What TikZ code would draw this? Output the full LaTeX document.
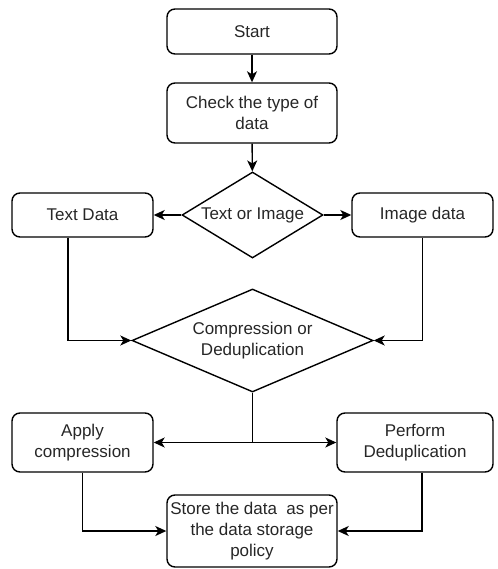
\documentclass[tikz,border=0pt]{standalone}
\usepackage{fontspec}
\setmainfont{Liberation Sans}
\usetikzlibrary{shapes.geometric,arrows.meta}
\begin{document}
\begin{tikzpicture}[x=1pt,y=-1pt,
  every node/.style={font=\fontsize{17}{21}\selectfont, text=black!85, align=center, inner sep=1pt},
  box/.style={draw, rounded corners=8pt, line width=1.4pt},
  dia/.style={draw, diamond, line width=1.4pt, inner sep=0pt},
  arr/.style={line width=1.4pt, -{Stealth[length=11pt,width=10pt,inset=3pt]}},
  ln/.style={line width=1.4pt}]
\useasboundingbox (0,0) rectangle (497,569);
\node[box, minimum width=170pt, minimum height=45pt] (start) at (252,31.5) {Start};
\node[box, minimum width=170pt, minimum height=60pt] (check) at (252,113) {Check the type of\\data};
\node[dia, shape aspect=1.64, minimum width=141pt, minimum height=86pt] (d1) at (252.5,215) {Text or Image};
\node[box, minimum width=141pt, minimum height=44pt] (text) at (82.5,215) {Text Data};
\node[box, minimum width=141pt, minimum height=44pt] (image) at (422.5,215) {Image data};
\node[dia, shape aspect=2.34, minimum width=241pt, minimum height=103pt] (d2) at (252.5,340.5) {Compression or\\Deduplication};
\node[box, minimum width=141pt, minimum height=59pt] (apply) at (82.5,442.5) {Apply\\compression};
\node[box, minimum width=156pt, minimum height=59pt] (perform) at (415,442.5) {Perform\\Deduplication};
\node[box, minimum width=170pt, minimum height=72pt] (store) at (252,531) {Store the data~ as per\\the data storage\\policy};
\draw[arr] (start) -- (check);
\draw[arr] (check) -- (d1);
\draw[arr] (d1) -- (text);
\draw[arr] (d1) -- (image);
\draw[arr] ([xshift=-14.5pt]text.south) |- (d2.west);
\draw[arr] (image.south) |- (d2.east);
\draw[arr] (d2.south) |- (apply.east);
\draw[arr] (d2.south) |- (perform.west);
\draw[arr] (apply.south) |- (store.west);
\draw[arr] ([xshift=7pt]perform.south) |- (store.east);
\end{tikzpicture}
\end{document}
